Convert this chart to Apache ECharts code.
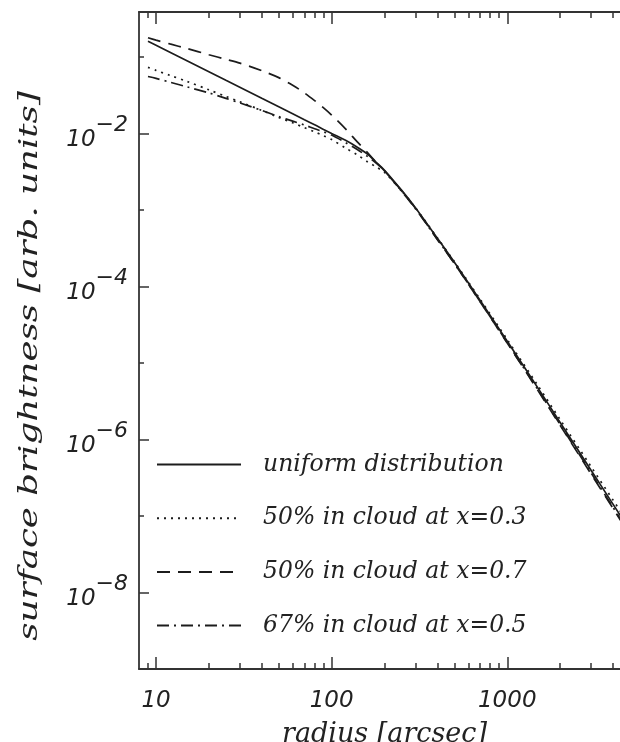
<!DOCTYPE html>
<html>
<head>
<meta charset="utf-8">
<script src="https://cdn.jsdelivr.net/npm/echarts@6/dist/echarts.min.js"></script>
<style>
  html, body { margin: 0; padding: 0; background: #fff; }
  #chart { width: 620px; height: 742px; }
</style>
</head>
<body>
<div id="chart"></div>
<script>
// Radii (arcsec) at which the profiles are sampled
const radii = [9, 10, 12, 15, 20, 25, 30, 40, 50, 60, 70, 80, 90, 100, 120, 140, 160, 180,
  200, 250, 300, 400, 500, 700, 1000, 1500, 2000, 3000, 4000, 5000];

// Surface brightness profiles (arb. units)
const uniform = [0.1609, 0.1426, 0.1156, 0.0893, 0.0641, 0.0495, 0.0402, 0.0288, 0.0223, 0.0181,
  0.0151, 0.0130, 0.0113, 0.0100, 0.00813, 0.00661, 0.00537, 0.00417,
  0.00331, 0.00182, 0.00107, 4.27e-4, 2.07e-4, 6.59e-5, 1.92e-5, 4.66e-6, 1.67e-6, 3.97e-7, 1.43e-7, 6.47e-8];
const cloud03 = [0.0730, 0.0668, 0.0575, 0.0479, 0.0372, 0.0305, 0.0260, 0.0200, 0.0162, 0.0138,
  0.0119, 0.0105, 0.00933, 0.00832, 0.00646, 0.00525, 0.00427, 0.00363,
  0.00310, 0.00178, 0.00107, 4.32e-4, 2.11e-4, 6.84e-5, 2.02e-5, 5.01e-6, 1.82e-6, 4.42e-7, 1.62e-7, 7.41e-8];
const cloud07 = [0.178, 0.166, 0.148, 0.129, 0.107, 0.0933, 0.0832, 0.0661, 0.0537, 0.0427,
  0.0339, 0.0269, 0.0216, 0.0174, 0.0115, 0.00776, 0.00562, 0.00417,
  0.00324, 0.00178, 0.00105, 4.12e-4, 2.00e-4, 6.31e-5, 1.82e-5, 4.32e-6, 1.53e-6, 3.55e-7, 1.26e-7, 5.62e-8];
const cloud05 = [0.0556, 0.0525, 0.0468, 0.0407, 0.0339, 0.0288, 0.0251, 0.0200, 0.0166, 0.0145,
  0.0129, 0.0115, 0.0105, 0.00955, 0.00759, 0.00617, 0.00501, 0.00407,
  0.00324, 0.00176, 0.00104, 4.12e-4, 2.00e-4, 6.38e-5, 1.84e-5, 4.42e-6, 1.57e-6, 3.67e-7, 1.30e-7, 5.82e-8];

const seriesNames = ['uniform distribution', '50% in cloud at x=0.3', '50% in cloud at x=0.7', '67% in cloud at x=0.5'];

// Axis ranges and tick positions
const xRange = [8, 5000];
const yRange = [1e-9, 0.387];
const xMajorTicks = [10, 100, 1000];
const xMinorTicks = [9, 20, 30, 40, 50, 60, 70, 80, 90, 200, 300, 400, 500, 600, 700, 800, 900, 2000, 3000, 4000, 5000];
const yMajorTicks = [1e-8, 1e-6, 1e-4, 1e-2];
const yMinorTicks = [1e-7, 1e-5, 1e-3, 1e-1];

// Both axes are logarithmic: the grid works in log10 units
const lg = Math.log10;
const toPoints = vals => radii.map((r, i) => [lg(r), lg(vals[i])]);

const INK = '#1c1c1c';
const AXIS = '#333';
const labelFont = { fontFamily: 'DejaVu Sans', fontStyle: 'italic', fontSize: 23, color: '#222' };
const titleFont = 'italic 26px "DejaVu Serif"';

function xAxisDef(position, ticks, len, withLine, withLabels) {
  return {
    type: 'value', position: position,
    min: lg(xRange[0]), max: lg(xRange[1]),
    axisLine: { show: withLine, onZero: false, lineStyle: { color: AXIS, width: 1.8 } },
    axisTick: { show: true, inside: true, length: len, customValues: ticks.map(lg),
      lineStyle: { color: AXIS, width: 1.5 } },
    axisLabel: withLabels ? Object.assign({ show: true, customValues: ticks.map(lg), margin: 21,
      formatter: v => String(Math.round(Math.pow(10, v))) }, labelFont) : { show: false },
    splitLine: { show: false }
  };
}

function yAxisDef(ticks, len, withLine, withLabels) {
  return {
    type: 'value', position: 'left',
    min: lg(yRange[0]), max: lg(yRange[1]),
    axisLine: { show: withLine, onZero: false, lineStyle: { color: AXIS, width: 1.8 } },
    axisTick: { show: true, inside: true, length: len, customValues: ticks.map(lg),
      lineStyle: { color: AXIS, width: 1.5 } },
    axisLabel: withLabels ? {
      show: true, customValues: ticks.map(lg), margin: 11,
      formatter: v => '{b|10}{e|\u2212' + Math.abs(Math.round(v)) + '}',
      rich: {
        b: Object.assign({ padding: [15, 0, 1, 0], verticalAlign: 'bottom' }, labelFont),
        e: Object.assign({ verticalAlign: 'top' }, labelFont, { fontSize: 22 })
      }
    } : { show: false },
    splitLine: { show: false }
  };
}

const xBottom = xAxisDef('bottom', xMajorTicks, 12, true, true);
xBottom.name = 'radius [arcsec]';
xBottom.nameLocation = 'middle';
xBottom.nameGap = 52;
xBottom.nameTextStyle = { fontFamily: 'DejaVu Serif', fontStyle: 'italic', fontSize: 27, color: '#222' };

const lineStyles = [
  { type: 'solid' },
  { type: [2, 5] },
  { type: [13, 8] },
  { type: [12, 5, 2, 5] }
];
const profiles = [uniform, cloud03, cloud07, cloud05];

const chart = echarts.init(document.getElementById('chart'), null, { renderer: 'canvas' });
chart.setOption({
  backgroundColor: '#fff',
  animation: false,
  grid: { left: 139, top: 12, width: 491, height: 657, containLabel: false, outerBoundsMode: 'none' },
  xAxis: [
    xBottom,
    xAxisDef('bottom', xMinorTicks, 6, false, false),
    xAxisDef('top', xMajorTicks, 12, true, false),
    xAxisDef('top', xMinorTicks, 6, false, false)
  ],
  yAxis: [
    yAxisDef(yMajorTicks, 10, true, true),
    yAxisDef(yMinorTicks, 5, false, false)
  ],
  legend: {
    orient: 'vertical', left: 156, top: 453, padding: 0,
    itemWidth: 84, itemHeight: 26, itemGap: 30.7,
    itemStyle: { color: 'transparent', borderColor: 'transparent', borderWidth: 0, opacity: 0 },
    textStyle: { fontFamily: 'DejaVu Serif', fontStyle: 'italic', fontSize: 23.5, color: '#222',
      padding: [0, 0, 0, 17] },
    data: seriesNames
  },
  graphic: [{
    type: 'text', x: 30, y: 366, rotation: Math.PI / 2, scaleX: 1.37,
    style: { text: 'surface brightness [arb. units]', font: titleFont, fill: '#222',
      textAlign: 'center', textVerticalAlign: 'middle' }
  }],
  series: profiles.map((vals, i) => ({
    name: seriesNames[i], type: 'line', xAxisIndex: 0, yAxisIndex: 0,
    data: toPoints(vals), showSymbol: false, symbol: 'none', smooth: 0.3,
    lineStyle: Object.assign({ color: INK, width: 1.7 }, lineStyles[i]),
    itemStyle: { color: INK }
  }))
});
</script>
</body>
</html>
